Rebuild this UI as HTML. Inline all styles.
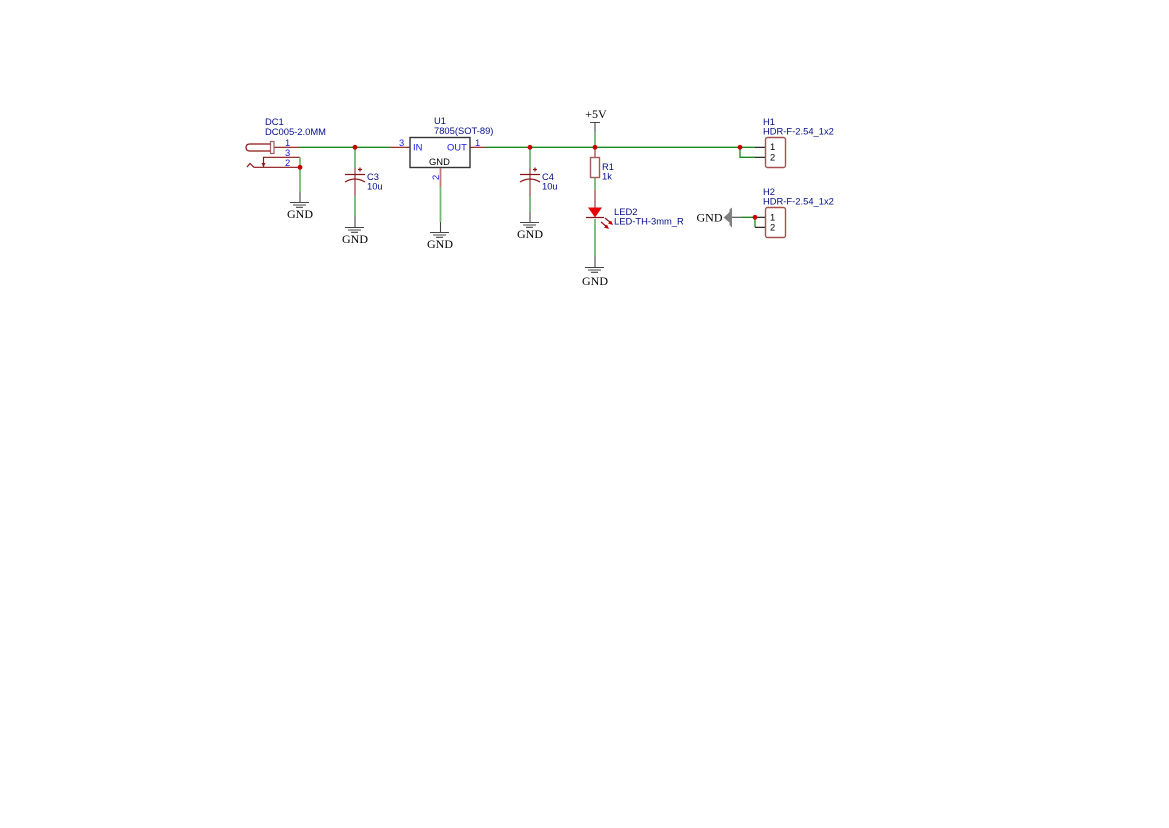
<!DOCTYPE html>
<html><head><meta charset="utf-8"><style>
html,body{margin:0;padding:0;background:#fff}
svg{display:block}
.s{font-family:"Liberation Sans",sans-serif;font-size:9.4px}
.n{fill:#000c8c}.p{fill:#1414e6}.k{fill:#000}
.g{font-family:"Liberation Serif",serif;font-size:12px;fill:#000;text-anchor:middle}
.w{stroke:#1b8a1b;stroke-width:1.3;fill:none}
.lw{stroke:#74b874;stroke-width:1.8;fill:none}
.r{stroke:#8c1414;stroke-width:1.2;fill:none}
.lr{stroke:#bb7c7c;stroke-width:1.8;fill:none}
.b{stroke:#444;stroke-width:1.1;fill:none}
</style></head><body>
<svg width="1169" height="828" viewBox="0 0 1169 828" xmlns="http://www.w3.org/2000/svg">
<rect width="1169" height="828" fill="#fff"/>
<!-- main wires -->
<path class="w" d="M299 147.300H390M485 147.300H755M740 147.300V157.300H755"/>
<path class="r" d="M274 147.300H299M390 147.300H410M470 147.300H485"/>
<!-- DC1 -->
<path class="r" d="M270 144H250Q246 144 246 147.500Q246 151 250 151H270"/>
<rect x="270.500" y="141.500" width="3.500" height="12" fill="none" stroke="#a85a5a" stroke-width="1.200"/>
<path class="r" d="M300 157.300H263.500V167M300 167.300H254L250 163.500L247 167"/>
<path d="M261.500 163H265.500L263.500 167Z" fill="#8c1414"/>
<path class="lw" d="M300 157.300V192"/>
<path class="b" d="M300 192V202M290 202.500H309M293 205H306M296 207.300H303"/>
<text class="g" x="300" y="218">GND</text>
<!-- C3 -->
<path class="lw" d="M355 147.300V168M355 196V216"/>
<path class="lr" d="M355 168V196"/>
<path class="r" d="M345 174.500H365M345 182Q355 176 365 182M358 169.500H362M360 167.500V171.500" stroke-width="1.200"/>
<path class="b" d="M355 216V227M345 227.500H364M348 230H361M351 232.300H358"/>
<text class="g" x="355" y="243">GND</text>
<!-- U1 -->
<rect x="410" y="137.500" width="60" height="30" fill="#fff" stroke="#333" stroke-width="1.400"/>
<path class="lr" d="M440.500 168V187"/>
<path class="lw" d="M440.500 187V222"/>
<path class="b" d="M440.500 222V232M430 232.500H449M433 235H446M436 237.300H443"/>
<text class="g" x="440" y="248">GND</text>
<!-- C4 -->
<path class="lw" d="M530 147.300V168M530 196V212"/>
<path class="lr" d="M530 168V196"/>
<path class="r" d="M520 174.500H540M520 182Q530 176 540 182M533 169.500H537M535 167.500V171.500" stroke-width="1.200"/>
<path class="b" d="M530 212V222M520 222.500H539M523 225H536M526 227.300H533"/>
<text class="g" x="530" y="238">GND</text>
<!-- +5V branch -->
<text class="g" x="596" y="118">+5V</text>
<path class="b" d="M590 122.500H600M595 122.500V132"/>
<path class="lw" d="M595 132V147M595 177V190M595 219V256"/>
<path class="lr" d="M595 147V157M595 190V208"/>
<rect x="590.500" y="157.500" width="9" height="20" fill="#fff" stroke="#a85a5a" stroke-width="1.400"/>
<path d="M588 207.500H602L595 217.500Z" fill="#e60000"/>
<path class="r" d="M586 217.500H604"/>
<path stroke="#8c1414" stroke-width="1.200" fill="none" d="M601 222L607 227M605 218L611 223"/>
<path fill="#c00000" d="M609 229L604 227.500L607 224.500ZM613 225L608 223.500L611 220.500Z"/>
<path class="b" d="M595 256V267M585 267.500H604M588 270H601M591 272.300H598"/>
<text class="g" x="595" y="285">GND</text>
<!-- H1 -->
<path d="M755 147.300H765M755 157.300H765" stroke="#111" stroke-width="1.200"/>
<rect x="765.500" y="137.500" width="20" height="30" rx="2" fill="#fff" stroke="#a85050" stroke-width="1.400"/>
<!-- H2 -->
<path class="w" d="M741 217.300H755V227.300"/>
<path d="M755 217.300H765M755 227.300H765" stroke="#111" stroke-width="1.200"/>
<rect x="765.500" y="207.500" width="20" height="30" rx="2" fill="#fff" stroke="#a85050" stroke-width="1.400"/>
<path stroke="#555" stroke-width="1.200" fill="none" d="M730 217.300H741"/>
<path fill="#808080" d="M732 207.500V227.500L729.500 225V222.500L727 220.500L723.500 217.500L727 214.500L729.500 212V209.500Z"/>
<text class="g" x="709.500" y="221.500">GND</text>
<!-- dots -->
<g fill="#c80000"><circle cx="355" cy="147.300" r="2.400"/><circle cx="530" cy="147.300" r="2.400"/><circle cx="595" cy="147.300" r="2.400"/><circle cx="740" cy="147.300" r="2.400"/><circle cx="300" cy="167.300" r="2.400"/><circle cx="755" cy="217.300" r="2.400"/></g>
<!-- labels -->
<g class="s">
<text class="n" x="265" y="125">DC1</text><text class="n" x="265" y="135">DC005-2.0MM</text>
<text class="n" x="434" y="124">U1</text><text class="n" x="434" y="134">7805(SOT-89)</text>
<text class="n" x="367" y="180">C3</text><text class="n" x="367" y="189.500">10u</text>
<text class="n" x="542" y="180">C4</text><text class="n" x="542" y="189.500">10u</text>
<text class="n" x="602" y="170">R1</text><text class="n" x="602" y="179.500">1k</text>
<text class="n" x="614" y="215">LED2</text><text class="n" x="614" y="224.500">LED-TH-3mm_R</text>
<text class="n" x="763" y="125">H1</text><text class="n" x="763" y="134.500">HDR-F-2.54_1x2</text>
<text class="n" x="763" y="195">H2</text><text class="n" x="763" y="204.500">HDR-F-2.54_1x2</text>
<text class="p" x="285" y="146">1</text><text class="p" x="285" y="156">3</text><text class="p" x="285" y="166">2</text>
<text class="p" x="399" y="146">3</text><text class="p" x="475" y="146">1</text>
<text class="p" transform="translate(439,180) rotate(-90)">2</text>
<text class="p" x="413" y="150.500">IN</text><text class="p" x="447" y="150.500">OUT</text>
<text class="k" x="429" y="165">GND</text>
<text class="k" x="770" y="150">1</text><text class="k" x="770" y="160.500">2</text>
<text class="k" x="770" y="220.500">1</text><text class="k" x="770" y="230.500">2</text>
</g>
</svg>
</body></html>
